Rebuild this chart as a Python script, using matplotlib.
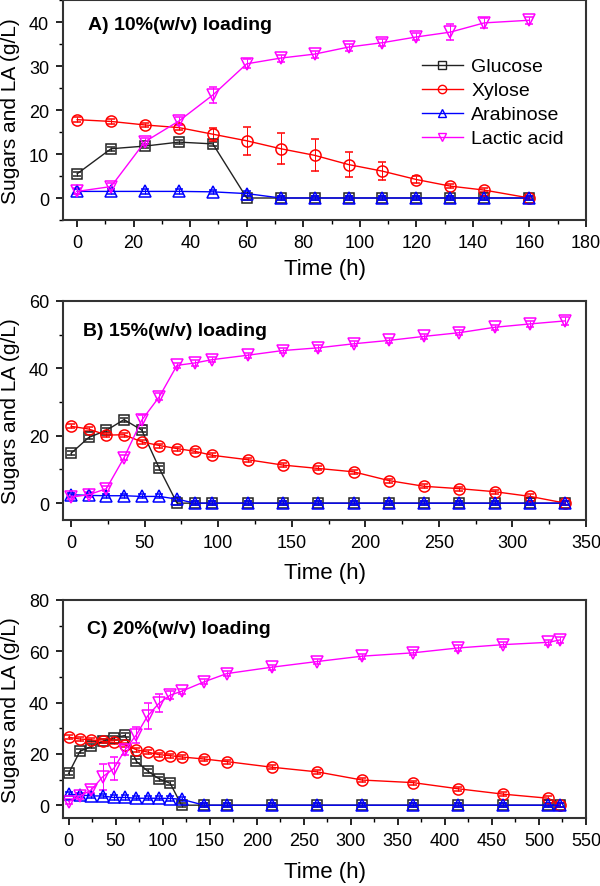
import matplotlib
matplotlib.use("Agg")
import matplotlib.pyplot as plt
from matplotlib.ticker import MultipleLocator
from matplotlib.lines import Line2D

plt.rcParams['font.family'] = ['Liberation Sans', 'DejaVu Sans']

# ---------------- Panel A data ----------------
tA = [0, 12, 24, 36, 48, 60, 72, 84, 96, 108, 120, 132, 144, 160]
gluA = [5.5, 11.2, 11.8, 12.7, 12.3, 0, 0, 0, 0, 0, 0, 0, 0, 0]
gluA_err = [0.5] * 14
xylA = [17.8, 17.4, 16.6, 16.0, 14.5, 13.0, 11.2, 9.7, 7.6, 6.1, 4.2, 2.7, 1.8, 0]
xylA_err = [0.5, 0.5, 0.5, 0.5, 1.5, 3.2, 3.5, 3.6, 2.8, 2.1, 0.7, 0.5, 0.4, 0.3]
araA = [1.5, 1.5, 1.5, 1.5, 1.4, 1.0, 0, 0, 0, 0, 0, 0, 0, 0]
araA_err = [0.5] * 14
laA = [1.5, 2.6, 12.8, 17.5, 23.4, 30.5, 31.8, 32.7, 34.3, 35.3, 36.6, 37.7, 39.8, 40.4]
laA_err = [0.7, 0.7, 0.8, 0.8, 1.9, 1.0, 0.8, 0.8, 0.8, 0.8, 0.8, 1.9, 1.2, 0.8]

# ---------------- Panel B data ----------------
tB = [0, 12, 24, 36, 48, 60, 72, 84, 96, 120, 144, 168, 192, 216, 240, 264, 288, 312, 336]
gluB = [14.8, 19.5, 21.6, 24.8, 21.7, 10.3, 0, 0, 0, 0, 0, 0, 0, 0, 0, 0, 0, 0, 0]
gluB_err = [0.6] * 19
xylB = [22.8, 22.0, 20.2, 20.3, 18.2, 17.1, 16.2, 15.4, 14.2, 12.9, 11.3, 10.3, 9.3, 6.7, 5.0, 4.3, 3.4, 2.0, 0]
xylB_err = [0.6] * 19
araB = [2.5, 2.3, 2.2, 2.2, 2.0, 2.0, 1.2, 0, 0, 0, 0, 0, 0, 0, 0, 0, 0, 0, 0]
araB_err = [0.6] * 19
laB = [1.8, 2.5, 4.3, 13.5, 24.6, 31.6, 40.9, 41.6, 42.6, 43.9, 45.3, 46.1, 47.3, 48.3, 49.5, 50.6, 52.2, 53.2, 54.1]
laB_err = [0.7, 0.7, 0.8, 0.8, 1.5, 1.0, 0.8, 0.8, 0.8, 0.8, 0.8, 0.8, 0.8, 0.8, 0.8, 0.8, 0.8, 0.8, 1.2]

# ---------------- Panel C data ----------------
tC = [0, 12, 24, 36, 48, 60, 72, 84, 96, 108, 120, 144, 168, 216, 264, 312, 366, 414, 462, 510, 522]
gluC = [12.4, 21.0, 22.9, 24.9, 26.2, 27.2, 17.1, 13.3, 10.3, 8.5, 0, 0, 0, 0, 0, 0, 0, 0, 0, 0, 0]
gluC_err = [0.8] * 21
xylC = [26.5, 25.8, 25.5, 24.9, 24.5, 23.6, 21.6, 20.7, 19.7, 19.3, 18.8, 18.0, 17.0, 14.8, 13.0, 9.8, 8.8, 6.4, 4.3, 2.7, 0]
xylC_err = [0.8] * 21
araC = [4.3, 4.0, 3.6, 3.6, 3.0, 3.0, 2.7, 2.7, 2.7, 2.6, 2.3, 0, 0, 0, 0, 0, 0, 0, 0, 0, 0]
araC_err = [0.8] * 21
laC = [1.4, 3.6, 5.9, 11.0, 14.3, 21.6, 27.4, 34.8, 39.7, 42.9, 44.4, 48.1, 51.3, 53.8, 56.0, 58.1, 59.4, 61.3, 62.6, 63.5, 64.4]
laC_err = [1.0, 1.2, 1.2, 5.0, 4.5, 2.0, 3.0, 5.0, 3.5, 1.5, 1.0, 1.0, 1.0, 1.0, 1.0, 1.0, 1.0, 1.0, 1.0, 1.0, 1.0]

names = ["Glucose", "Xylose", "Arabinose", "Lactic acid"]
colors = ["#222222", "#ff0000", "#0000ff", "#ff00ff"]
markers = ["s", "o", "^", "v"]
msizes = [7.0, 8.0, 8.5, 8.5]

panels = [
    dict(t=tA, series=[(gluA, gluA_err), (xylA, xylA_err), (araA, araA_err), (laA, laA_err)],
         title="A) 10%(w/v) loading", xlim=(-5, 180), ylim=(-5, 45), xmaj=20, xmin=10,
         ymaj=10, ymin=5, top=1, bottom=221, tpos=(88, 26), xlab_off=49, legend=True),
    dict(t=tB, series=[(gluB, gluB_err), (xylB, xylB_err), (araB, araB_err), (laB, laB_err)],
         title="B) 15%(w/v) loading", xlim=(-5.5, 350), ylim=(-5, 60), xmaj=50, xmin=25,
         ymaj=20, ymin=10, top=302, bottom=521, tpos=(83, 332), xlab_off=52, legend=False),
    dict(t=tC, series=[(gluC, gluC_err), (xylC, xylC_err), (araC, araC_err), (laC, laC_err)],
         title="C) 20%(w/v) loading", xlim=(-6, 550), ylim=(-5, 80), xmaj=50, xmin=25,
         ymaj=20, ymin=10, top=601, bottom=819, tpos=(87, 629), xlab_off=54, legend=False),
]

W, H = 600, 887
fig = plt.figure(figsize=(W / 100, H / 100), dpi=100)

for p in panels:
    left, right = 63, 586
    ah = p["bottom"] - p["top"]
    ax = fig.add_axes([left / W, (H - p["bottom"]) / H, (right - left) / W, ah / H])
    for (vals, err), name, c, m, ms in zip(p["series"], names, colors, markers, msizes):
        ax.errorbar(p["t"], vals, yerr=err, color=c, marker=m, markersize=ms,
                    markerfacecolor="none", markeredgecolor=c, markeredgewidth=1.1,
                    linewidth=1.0, elinewidth=0.7, capsize=3, capthick=0.7, label=name)
    ax.set_xlim(*p["xlim"])
    ax.set_ylim(*p["ylim"])
    ax.xaxis.set_major_locator(MultipleLocator(p["xmaj"]))
    ax.xaxis.set_minor_locator(MultipleLocator(p["xmin"]))
    ax.yaxis.set_major_locator(MultipleLocator(p["ymaj"]))
    ax.yaxis.set_minor_locator(MultipleLocator(p["ymin"]))
    ax.tick_params(which="both", direction="out", top=False, right=False, labelsize=13)
    ax.tick_params(which="major", length=5, width=1.2, pad=5)
    ax.tick_params(which="minor", length=3, width=1.0)
    for s in ax.spines.values():
        s.set_linewidth(1.5)
        s.set_color("#333333")
    ax.set_xlabel("Time (h)", fontsize=16, va="center")
    ax.xaxis.set_label_coords(0.5, -p["xlab_off"] / ah)
    ax.set_ylabel("Sugars and LA (g/L)", fontsize=15, va="center")
    ax.yaxis.set_label_coords((11 - left) / (right - left), 0.5)
    tx, ty = p["tpos"]
    fig.text(tx / W, 1 - ty / H, p["title"], fontsize=14, fontweight="bold", va="center", ha="left")
    if p["legend"]:
        hs = [Line2D([], [], color=c, marker=m, markersize=6, markerfacecolor="none", linewidth=1.0)
              for c, m in zip(colors, markers)]
        ax.legend(hs, names, loc="upper left",
                  bbox_to_anchor=((414 - left) / (right - left), 1 - (51 - p["top"]) / ah),
                  frameon=False, fontsize=14, handlelength=2.1, handletextpad=0.45,
                  labelspacing=0.33, borderaxespad=0)

fig.savefig("out.png", dpi=100)
